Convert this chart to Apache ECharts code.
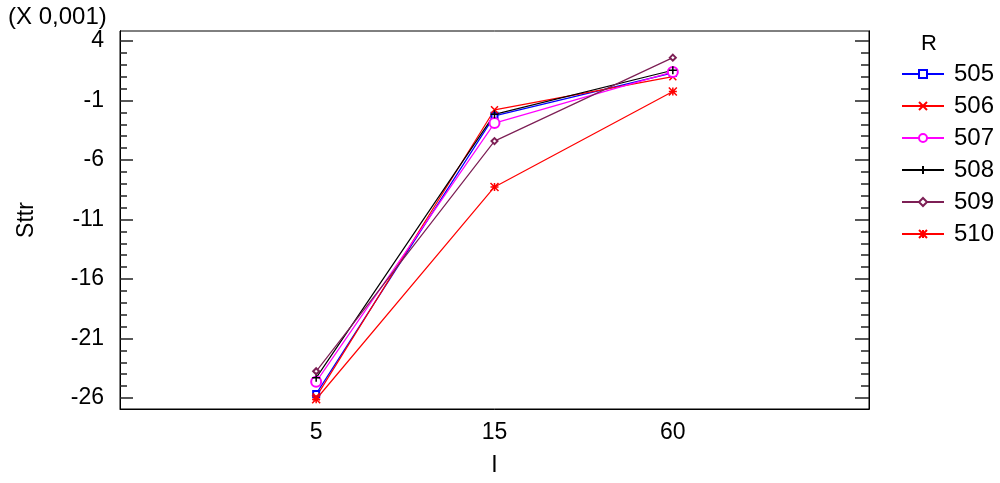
<!DOCTYPE html>
<html>
<head>
<meta charset="utf-8">
<script src="https://cdn.jsdelivr.net/npm/echarts@6/dist/echarts.min.js"></script>
<style>html,body{margin:0;padding:0;background:#fff}#c{width:1000px;height:483px}</style>
</head>
<body>
<div id="c"></div>
<script>
const categories = ['5', '15', '60'];
const seriesNames = ['505', '506', '507', '508', '509', '510'];
const s505 = [-25.65, -2.29, 1.32];
const s506 = [-25.9, -1.78, 1.0];
const s507 = [-24.64, -2.9, 1.4];
const s508 = [-24.3, -2.16, 1.54];
const s509 = [-23.75, -4.41, 2.6];
const s510 = [-26.1, -8.26, -0.25];
const yMajorTicks = [-26, -21, -16, -11, -6, -1, 4];
const yMinorTicks = [];
for (let v = -26; v <= 4; v++) yMinorTicks.push(v);

const FONT = 'Liberation Sans';
const values = [s505, s506, s507, s508, s509, s510];
const styles = [
  {color: '#0000ff', symbol: 'emptyRect', size: 6},
  {color: '#ff0000', symbol: 'path://M0,0L10,10M10,0L0,10', size: 7, stroke: true},
  {color: '#ff00ff', symbol: 'emptyCircle', size: 10},
  {color: '#000000', symbol: 'path://M5,0L5,10M0,5L10,5', size: 8, stroke: true},
  {color: '#7d1f55', symbol: 'emptyDiamond', size: 6},
  {color: '#ff0000', symbol: 'path://M0,0L10,10M10,0L0,10M5,0L5,10M0,5L10,5', size: 8, stroke: true}
];
const YMIN = -26.92, YMAX = 4.84;

const series = seriesNames.map((name, i) => {
  const st = styles[i];
  const itemStyle = st.stroke
    ? {color: st.color, borderColor: st.color, borderWidth: 1.5}
    : {color: st.color, borderColor: st.color, borderWidth: 1.2};
  return {
    name: name,
    type: 'line',
    yAxisIndex: 0,
    xAxisIndex: 0,
    data: values[i].map((v, j) => [j + 1, v]),
    symbol: st.symbol,
    symbolSize: st.size,
    showAllSymbol: true,
    itemStyle: itemStyle,
    lineStyle: {color: st.color, width: 1.2},
    emphasis: {disabled: true},
    animation: false
  };
});

function yAx(pos, ticks, len, labels) {
  return {
    type: 'value', position: pos, min: YMIN, max: YMAX,
    axisLine: {show: true, onZero: false, lineStyle: {color: '#000', width: 1}},
    axisTick: {show: true, inside: true, length: len, customValues: ticks, lineStyle: {color: '#222', width: 1.5}},
    axisLabel: labels ? {show: true, customValues: yMajorTicks, color: '#000', fontFamily: FONT, fontSize: 23, margin: 16} : {show: false},
    splitLine: {show: false},
    name: labels ? 'Sttr' : '',
    nameLocation: 'middle', nameGap: 82,
    nameTextStyle: {color: '#000', fontFamily: FONT, fontSize: 23}
  };
}

const chart = echarts.init(document.getElementById('c'), null, {renderer: 'canvas'});
chart.setOption({
  animation: false,
  backgroundColor: '#fff',
  title: [
    {text: '(X 0,001)', left: 3, top: 0, textStyle: {color: '#000', fontFamily: FONT, fontSize: 24, fontWeight: 'normal'}},
    {text: 'R', left: 916, top: 28, textStyle: {color: '#000', fontFamily: FONT, fontSize: 22, fontWeight: 'normal'}}
  ],
  grid: {left: 120, right: 131, top: 31, bottom: 74, show: true, borderColor: '#000', borderWidth: 1, containLabel: false},
  xAxis: [{
    type: 'value', min: -0.1, max: 4.1,
    axisLine: {show: true, onZero: false, lineStyle: {color: '#000'}},
    axisTick: {show: false},
    splitLine: {show: false},
    axisLabel: {show: true, customValues: [1, 2, 3], formatter: v => categories[Math.round(v) - 1] || '', color: '#000', fontFamily: FONT, fontSize: 23, margin: 12},
    name: 'I', nameLocation: 'middle', nameGap: 45,
    nameTextStyle: {color: '#000', fontFamily: FONT, fontSize: 23}
  }],
  yAxis: [
    yAx('left', yMajorTicks, 13, true),
    yAx('left', yMinorTicks, 7, false),
    yAx('right', yMajorTicks, 14, false),
    yAx('right', yMinorTicks, 8, false)
  ],
  legend: {
    orient: 'vertical', left: 896, top: 57,
    itemWidth: 42, itemHeight: 10, itemGap: 8,
    data: seriesNames,
    textStyle: {color: '#000', fontFamily: FONT, fontSize: 24, lineHeight: 24, padding: [0, 0, 0, 5]},
    lineStyle: {width: 2},
    selectedMode: false
  },
  series: series
});
</script>
</body>
</html>
